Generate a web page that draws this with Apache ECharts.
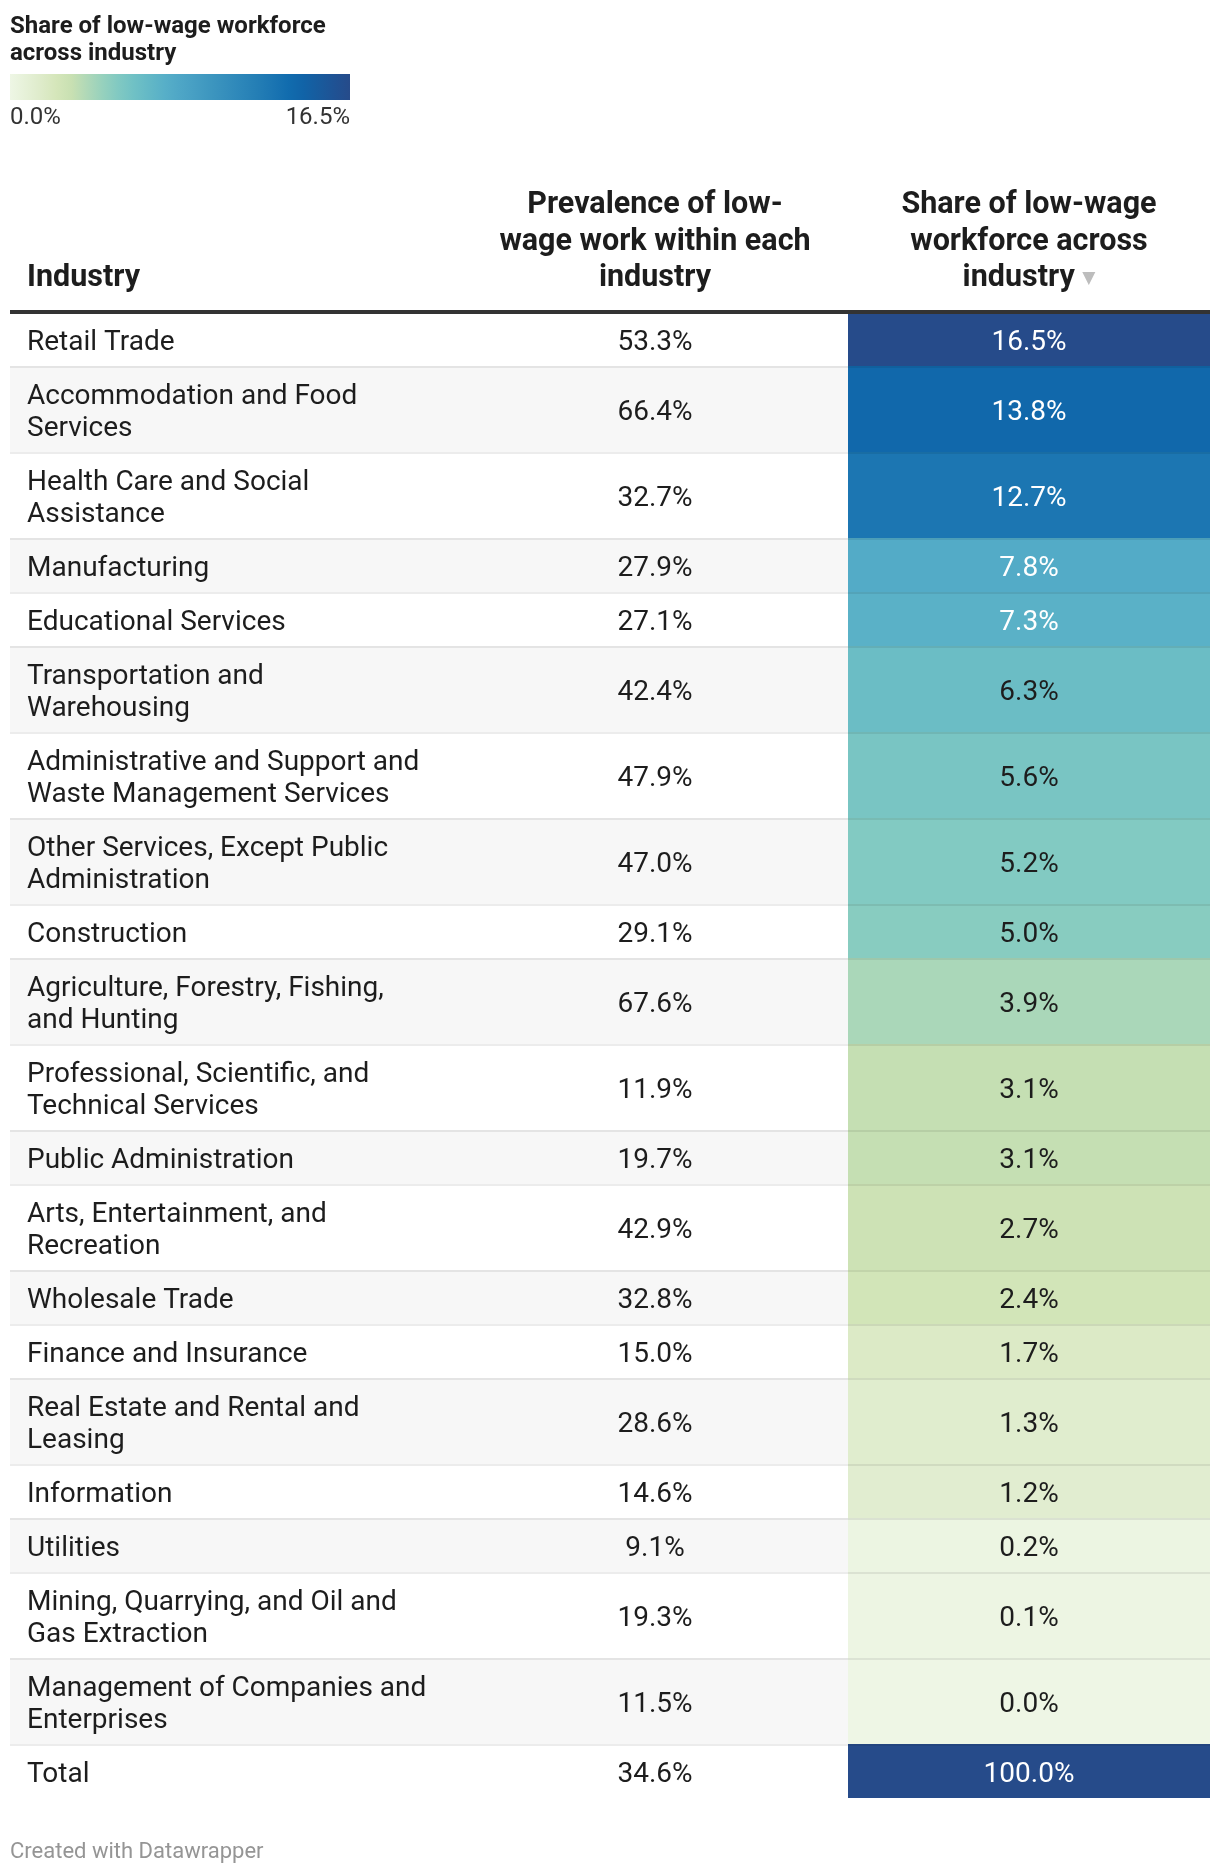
<!DOCTYPE html>
<html><head><meta charset="utf-8">
<script src="https://cdn.jsdelivr.net/npm/echarts@6/dist/echarts.min.js"></script>
<style>html,body{margin:0;padding:0;background:#fff}#c{width:1220px;height:1874px}</style>
</head><body><div id="c"></div>
<script>
// ---------------- data ----------------
const industries = [
  'Retail Trade',
  'Accommodation and Food\nServices',
  'Health Care and Social\nAssistance',
  'Manufacturing',
  'Educational Services',
  'Transportation and\nWarehousing',
  'Administrative and Support and\nWaste Management Services',
  'Other Services, Except Public\nAdministration',
  'Construction',
  'Agriculture, Forestry, Fishing,\nand Hunting',
  'Professional, Scientific, and\nTechnical Services',
  'Public Administration',
  'Arts, Entertainment, and\nRecreation',
  'Wholesale Trade',
  'Finance and Insurance',
  'Real Estate and Rental and\nLeasing',
  'Information',
  'Utilities',
  'Mining, Quarrying, and Oil and\nGas Extraction',
  'Management of Companies and\nEnterprises',
  'Total'
];
const prevalence = [53.3, 66.4, 32.7, 27.9, 27.1, 42.4, 47.9, 47.0, 29.1, 67.6, 11.9, 19.7, 42.9, 32.8, 15.0, 28.6, 14.6, 9.1, 19.3, 11.5, 34.6];
const share = [16.5, 13.8, 12.7, 7.8, 7.3, 6.3, 5.6, 5.2, 5.0, 3.9, 3.1, 3.1, 2.7, 2.4, 1.7, 1.3, 1.2, 0.2, 0.1, 0.0, 100.0];
const headers = ['Industry', 'Prevalence of low-\nwage work within each\nindustry', 'Share of low-wage\nworkforce across\nindustry'];
const legendTitle = 'Share of low-wage workforce\nacross industry';
const legendTicks = ['0.0%', '16.5%'];
const scaleMin = 0, scaleMax = 16.5;
const scaleColors = ['#eef6e5','#e6f1d8','#deebca','#d5e6ba','#c8e0b2','#afd8b8','#96d1bd','#81c9c2',
  '#70c1c5','#63b8c6','#57afc8','#4ea6c6','#469ec3','#3d96bf','#358ebc','#2c86b9','#247eb5',
  '#1b75b2','#116cae','#1163a7','#185b9d','#1f5294','#264b8a'];
const footer = 'Created with Datawrapper';

// ---------------- layout ----------------
const FONT = 'Roboto';
const COL = [10, 462, 848, 1210];
const BODY_TOP = 312, LINE_H = 32, ROW_PAD = 22, TEXT_DY = 3;
const lines = industries.map(s => s.split('\n').length);
const heights = lines.map(n => ROW_PAD + LINE_H * n);
const starts = [];
heights.reduce((acc, h) => { starts.push(acc); return acc + h; }, 0);
const totalH = heights.reduce((a, b) => a + b, 0);

function textColorFor(c) {
  const p = echarts.color.parse(c);
  const lin = v => { v /= 255; return v <= 0.03928 ? v / 12.92 : Math.pow((v + 0.055) / 1.055, 2.4); };
  const L = 0.2126 * lin(p[0]) + 0.7152 * lin(p[1]) + 0.0722 * lin(p[2]);
  return L < 0.41 ? '#ffffff' : '#1d1d1d';
}

const chart = echarts.init(document.getElementById('c'), null, { renderer: 'canvas' });

const rowData = industries.map((n, i) => [i, starts[i], starts[i] + heights[i], prevalence[i]]);
const heatData = industries.map((n, i) => [i, starts[i], starts[i] + heights[i], share[i]]);

chart.setOption({
  animation: false,
  backgroundColor: '#ffffff',
  grid: { left: 0, right: 0, top: BODY_TOP, height: totalH },
  xAxis: { type: 'value', min: 0, max: 1220, show: false },
  yAxis: { type: 'value', min: 0, max: totalH, inverse: true, show: false },
  visualMap: {
    type: 'continuous', show: false, min: scaleMin, max: scaleMax,
    dimension: 3, seriesIndex: 1, inRange: { color: scaleColors }
  },
  series: [
    {
      type: 'custom', z: 1, clip: false,
      data: rowData,
      renderItem: function (params, api) {
        const i = api.value(0);
        const p0 = api.coord([COL[0], api.value(1)]);
        const p1 = api.coord([COL[2], api.value(2)]);
        const cy = p0[1] + 1 + (p1[1] - p0[1]) / 2 + TEXT_DY;
        const children = [];
        if (i % 2 === 1) {
          children.push({ type: 'rect', shape: { x: p0[0], y: p0[1], width: p1[0] - p0[0], height: p1[1] - p0[1] }, style: { fill: '#f7f7f7' } });
        }
        const lx = api.coord([COL[0] + 17, 0])[0];
        children.push({ type: 'text', style: { text: industries[i], x: lx, y: cy, align: 'left', verticalAlign: 'middle', fontFamily: FONT, fontSize: 28, lineHeight: LINE_H, fill: '#1d1d1d' } });
        const mx = api.coord([(COL[1] + COL[2]) / 2, 0])[0];
        children.push({ type: 'text', style: { text: api.value(3).toFixed(1) + '%', x: mx, y: cy, align: 'center', verticalAlign: 'middle', fontFamily: FONT, fontSize: 28, fill: '#1d1d1d' } });
        return { type: 'group', children: children };
      }
    },
    {
      type: 'custom', z: 2, clip: false,
      data: heatData,
      renderItem: function (params, api) {
        const i = api.value(0);
        const p0 = api.coord([COL[2], api.value(1)]);
        const p1 = api.coord([COL[3], api.value(2)]);
        const cy = p0[1] + 1 + (p1[1] - p0[1]) / 2 + TEXT_DY;
        const color = api.visual('color');
        const children = [
          { type: 'rect', shape: { x: p0[0], y: p0[1], width: p1[0] - p0[0], height: p1[1] - p0[1] }, style: { fill: color } },
          { type: 'text', style: { text: api.value(3).toFixed(1) + '%', x: (p0[0] + p1[0]) / 2, y: cy, align: 'center', verticalAlign: 'middle', fontFamily: FONT, fontSize: 28, fill: textColorFor(color) } }
        ];
        if (i > 0) {
          const l0 = api.coord([COL[0], api.value(1)]);
          children.push({ type: 'rect', shape: { x: l0[0], y: l0[1], width: p1[0] - l0[0], height: 2 }, style: { fill: 'rgba(0,0,0,0.075)' } });
        }
        return { type: 'group', children: children };
      }
    }
  ],
  graphic: [
    // legend
    { type: 'text', x: 10, y: 13, style: { text: legendTitle, fontFamily: FONT, fontWeight: 'bold', fontSize: 24, lineHeight: 27.5, fill: '#1d1d1d', align: 'left', verticalAlign: 'top' } },
    { type: 'rect', shape: { x: 10, y: 74, width: 340, height: 26 }, style: {
        fill: new echarts.graphic.LinearGradient(0, 0, 1, 0, scaleColors.map((c, k) => ({ offset: k / (scaleColors.length - 1), color: c })))
      } },
    { type: 'text', x: 10, y: 117.5, style: { text: legendTicks[0], fontFamily: FONT, fontSize: 24, fill: '#333333', align: 'left', verticalAlign: 'middle' } },
    { type: 'text', x: 350, y: 117.5, style: { text: legendTicks[1], fontFamily: FONT, fontSize: 24, fill: '#333333', align: 'right', verticalAlign: 'middle' } },
    // headers
    { type: 'text', x: 27, y: 296.75, style: { text: headers[0], fontFamily: FONT, fontWeight: 'bold', fontSize: 30.5, lineHeight: 36.5, fill: '#1d1d1d', align: 'left', verticalAlign: 'bottom' } },
    { type: 'text', x: (COL[1] + COL[2]) / 2, y: 296.75, style: { text: headers[1], fontFamily: FONT, fontWeight: 'bold', fontSize: 30.5, lineHeight: 36.5, fill: '#1d1d1d', align: 'center', verticalAlign: 'bottom' } },
    { type: 'text', x: (COL[2] + COL[3]) / 2, y: 296.75, style: {
        text: headers[2] + ' {tri|▼}', fontFamily: FONT, fontWeight: 'bold', fontSize: 30.5, lineHeight: 36.5, fill: '#1d1d1d', align: 'center', verticalAlign: 'bottom',
        rich: { tri: { fontFamily: 'DejaVu Sans', fontSize: 17, fill: '#bdbdbd', lineHeight: 36.5 } }
      } },
    // header rule
    { type: 'rect', z: 100, shape: { x: COL[0], y: 310, width: COL[3] - COL[0], height: 4 }, style: { fill: '#333333' } },
    // footer
    { type: 'text', x: 10, y: 1852.5, style: { text: footer, fontFamily: FONT, fontSize: 22, fill: '#959595', align: 'left', verticalAlign: 'middle' } }
  ]
});
</script>
</body></html>
